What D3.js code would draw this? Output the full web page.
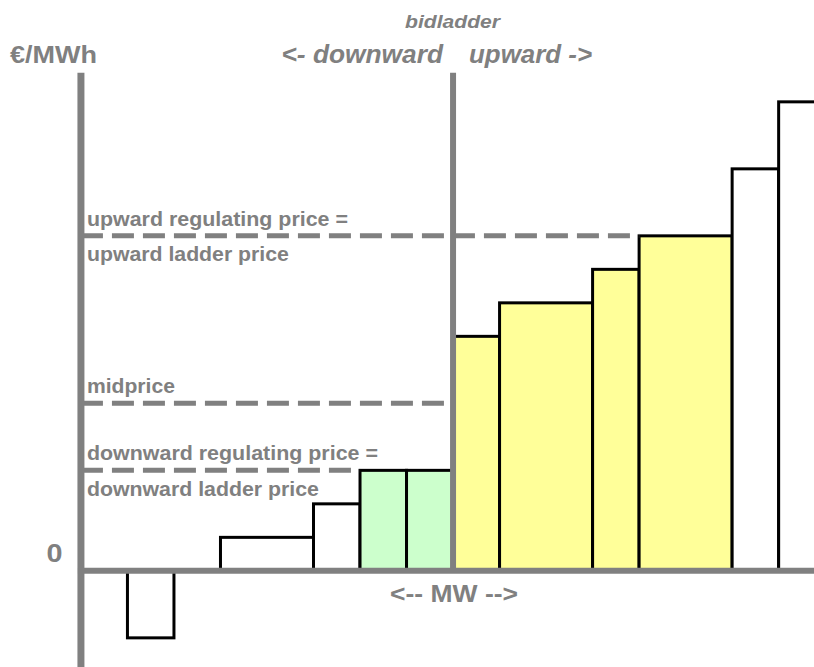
<!DOCTYPE html>
<html>
<head>
<meta charset="utf-8">
<script src="https://cdn.jsdelivr.net/npm/d3@7"></script>
<style>
  body { margin: 0; background: #fff; }
  text { font-family: "Liberation Sans", Arial, sans-serif; fill: #808080; font-weight: bold; }
</style>
</head>
<body>
<div id="graphHolder"></div>
<script>
'use strict'
// bid ladder steps (MW from / to, price in ladder units)
var mwFrom = [-7, -5, -3, -2, -1, 0, 1, 3, 4, 6, 7];
var mwTo   = [-6, -3, -2, -1, 0, 1, 3, 4, 6, 7, 9];
var price  = [-2, 1, 2, 3, 3, 7, 8, 9, 10, 12, 14];
var kind   = ["none", "none", "none", "down", "down", "up", "up", "up", "up", "none", "none"];

// reference price lines
var lineNames = ["upward", "mid", "downward"];
var linePrice = [10, 5, 3];
var lineEnd   = [4, -0.13, -2];

var width = 814, height = 667;
var fills = {none: "#ffffff", down: "#ccffcc", up: "#ffff99"};
var grey = "#808080";

var xScale = d3.scaleLinear().domain([-9.74, 7.76]).range([0, width]);
var yScale = d3.scaleLinear().domain([-2.87, 17.04]).range([height, 0]);

var svg = d3.select("#graphHolder").append("svg")
    .attr("width", width)
    .attr("height", height);

var bars = mwFrom.map(function (d, i) {
    return {from: d, to: mwTo[i], price: price[i], kind: kind[i]};
});

svg.selectAll("rect.bar")
    .data(bars)
    .enter()
    .append("rect")
    .attr("class", "bar")
    .attr("x", function (d) { return xScale(d.from); })
    .attr("width", function (d) { return xScale(d.to) - xScale(d.from); })
    .attr("y", function (d) { return yScale(Math.max(0, d.price)); })
    .attr("height", function (d) { return Math.abs(yScale(d.price) - yScale(0)); })
    .style("fill", function (d) { return fills[d.kind]; })
    .style("stroke", "#000")
    .style("stroke-width", 3);

// dashed price lines
svg.selectAll("line.price")
    .data(linePrice)
    .enter()
    .append("line")
    .attr("class", "price")
    .attr("x1", xScale(-8))
    .attr("x2", function (d, i) { return xScale(lineEnd[i]); })
    .attr("y1", function (d) { return yScale(d); })
    .attr("y2", function (d) { return yScale(d); })
    .style("stroke", grey)
    .style("stroke-width", 5)
    .style("stroke-dasharray", "22,9");

// axes
var axesG = svg.append("g").attr("class", "axes");
axesG.append("line")
    .attr("x1", xScale(-8)).attr("x2", xScale(-8))
    .attr("y1", yScale(14.87)).attr("y2", height)
    .style("stroke", grey).style("stroke-width", 7);
axesG.append("line")
    .attr("x1", xScale(0)).attr("x2", xScale(0))
    .attr("y1", yScale(14.87)).attr("y2", yScale(0))
    .style("stroke", grey).style("stroke-width", 6);
axesG.append("line")
    .attr("x1", xScale(-8) - 3).attr("x2", width)
    .attr("y1", yScale(0)).attr("y2", yScale(0))
    .style("stroke", grey).style("stroke-width", 6);

// labels: text, x, baseline y, font size, fitted width, italic
var labels = svg.append("g").attr("class", "labels");
function label(txt, x, y, size, len, italic) {
    var t = labels.append("text")
        .attr("x", x)
        .attr("y", y)
        .style("font-size", size + "px")
        .text(txt);
    if (len) t.attr("textLength", len).attr("lengthAdjust", "spacingAndGlyphs");
    if (italic) t.style("font-style", "italic");
    return t;
}

var lx = xScale(-8) + 6;
label("upward regulating price =", lx, yScale(10) - 9.5, 21, 261);
label("upward ladder price", lx, yScale(10) + 25.5, 21, 202);
label("midprice", lx, yScale(5) - 10.5, 21, 88);
label("downward regulating price =", lx, yScale(3) - 10, 21, 291);
label("downward ladder price", lx, yScale(3) + 26, 21, 232);

label("0", 46.5, yScale(0) - 8.5, 25, 16);
label("€/MWh", 10, 62.5, 23, 87);
label("bidladder", 405, 28.3, 18, 95, true);
label("<- downward", 281.5, 63.3, 26, 161.5, true);
label("upward ->", 469, 63.3, 26, 123, true);
label("<-- MW -->", 390, yScale(0) + 31.5, 23.5, 128);
</script>
</body>
</html>
